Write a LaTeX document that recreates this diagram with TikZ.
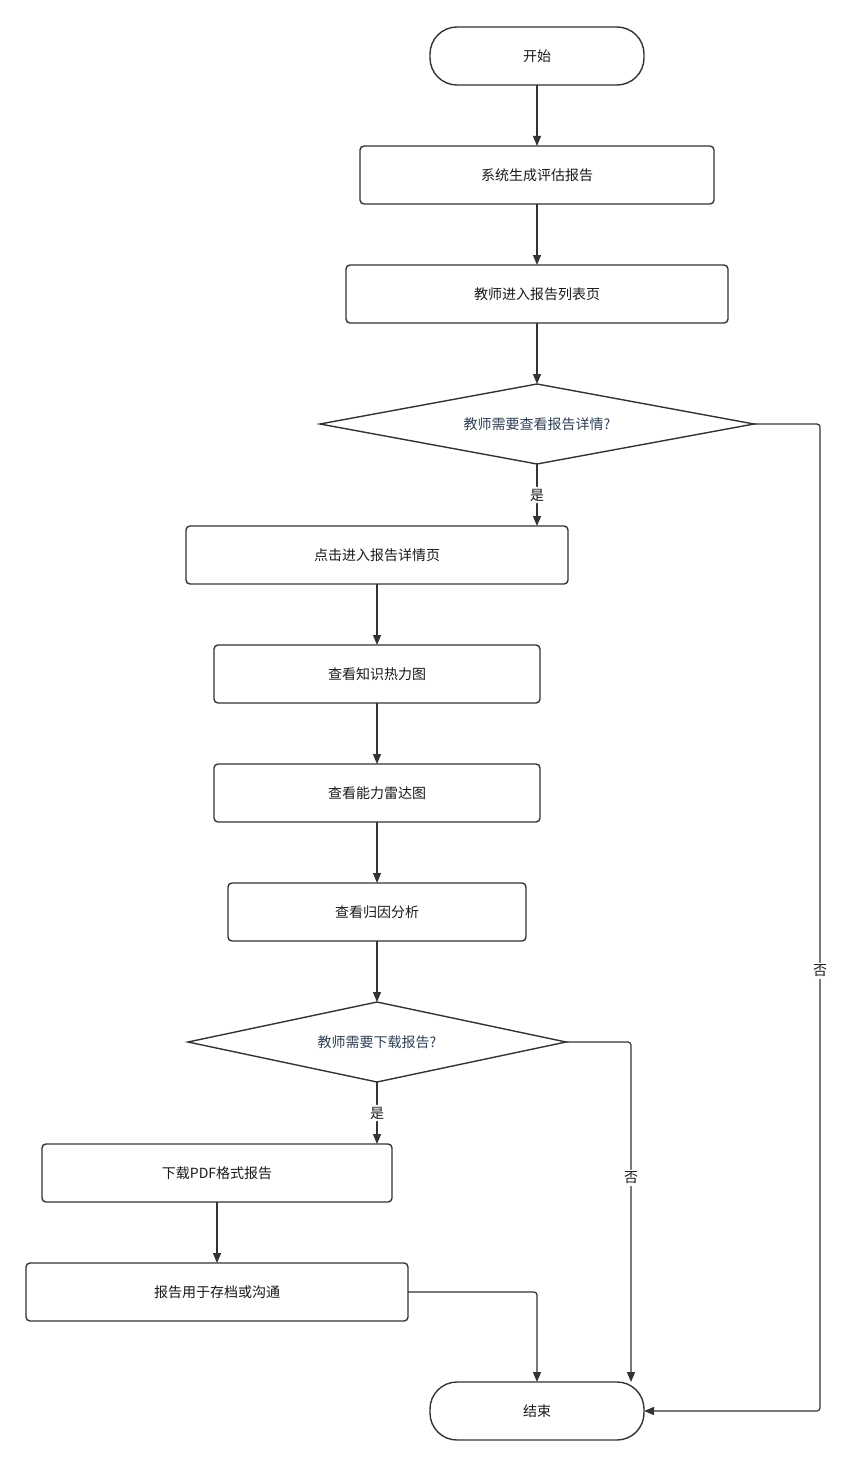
\documentclass[tikz,border=0pt]{standalone}
\usepackage{fontspec}
\setmainfont{Noto Sans CJK SC}
\usetikzlibrary{positioning}
\usetikzlibrary{arrows.meta}
\usetikzlibrary{shapes.geometric}
\usetikzlibrary{calc}

\definecolor{linegray}{HTML}{333333}
\definecolor{asktext}{HTML}{2F3F55}

\begin{document}
\begin{tikzpicture}[x=1pt,y=-1pt,node distance=61pt,>={Triangle[length=10pt,width=8pt]}]
\tikzset{process/.style={rectangle,minimum height=58pt, rounded corners=4pt, outer sep=0pt, draw=linegray, line width=1.4pt, text=black!90, font=\fontsize{14pt}{17pt}\selectfont}}
\tikzset{terminal/.style={process, minimum width=214pt, rounded corners=27pt}}
\tikzset{decision/.style={diamond, minimum height=80pt, inner sep=0pt, outer sep=0pt, draw=linegray, line width=1.4pt, text=asktext, font=\fontsize{14pt}{17pt}\selectfont}}
\tikzset{flow/.style={->, draw=linegray, line width=1.2pt, rounded corners=3pt}}
\tikzset{yesno/.style={fill=white, inner sep=2pt, text=black!90, font=\fontsize{14pt}{17pt}\selectfont}}
\useasboundingbox (0,0) rectangle (855,1466);
\node[terminal] (start) at (537,56) {开始};
\node[process, minimum width=354pt, below=of start] (report) {系统生成评估报告};
\node[process, minimum width=382pt, below=of report] (list) {教师进入报告列表页};
\node[decision, minimum width=434pt, aspect=5.4, below=of list] (ask1) {教师需要查看报告详情?};
\node[process, minimum width=382pt, below=62pt of ask1, xshift=-160pt] (detail) {点击进入报告详情页};
\node[process, minimum width=326pt, below=of detail] (heat) {查看知识热力图};
\node[process, minimum width=326pt, below=of heat] (radar) {查看能力雷达图};
\node[process, minimum width=298pt, below=of radar] (cause) {查看归因分析};
\node[decision, minimum width=378pt, aspect=4.7, below=of cause] (ask2) {教师需要下载报告?};
\node[process, minimum width=350pt, below=62pt of ask2, xshift=-160pt] (pdf) {下载PDF格式报告};
\node[process, minimum width=382pt, below=of pdf] (archive) {报告用于存档或沟通};
\node[terminal, below=of archive, xshift=320pt] (finish) {结束};
\coordinate[right=66pt of ask1.east] (turn1);
\coordinate[right=65pt of ask2.east] (turn2);
\draw[flow] (start) -- (report);
\draw[flow] (report) -- (list);
\draw[flow] (list) -- (ask1);
\draw[flow] (ask1.south) -- node[yesno]{是} (ask1.south |- detail.north);
\draw[flow] (ask1.east) -- (turn1) -- node[yesno, pos=0.554]{否} (turn1 |- finish.east) -- (finish.east);
\draw[flow] (detail) -- (heat);
\draw[flow] (heat) -- (radar);
\draw[flow] (radar) -- (cause);
\draw[flow] (cause) -- (ask2);
\draw[flow] (ask2.south) -- node[yesno]{是} (ask2.south |- pdf.north);
\draw[flow] (ask2.east) -- (turn2) -- node[yesno, pos=0.40]{否} (turn2 |- finish.north);
\draw[flow] (pdf) -- (archive);
\draw[flow] (archive.east) -| (finish.north);
\end{tikzpicture}
\end{document}
